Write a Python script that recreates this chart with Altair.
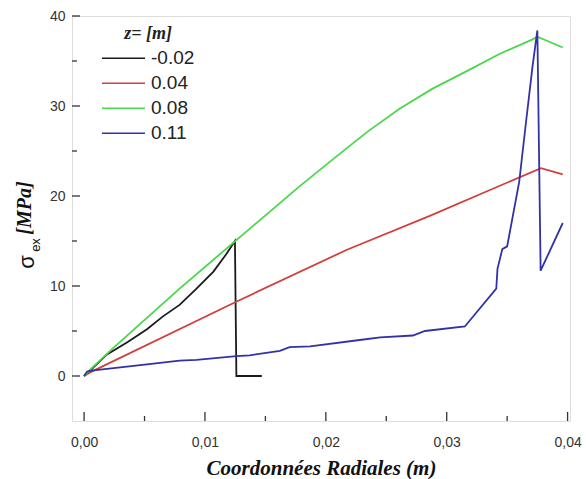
import altair as alt
import pandas as pd

# ---- data ----
z_labels = ["-0.02", "0.04", "0.08", "0.11"]
z_colors = ["#1a1a1a", "#d0403c", "#4cd64c", "#3232a8"]

x_black = [0, 0.0005, 0.0018, 0.00364, 0.0052, 0.0065, 0.0079, 0.0093, 0.0107, 0.0118,
           0.01248, 0.0126, 0.0147]
y_black = [0, 0.6, 2.3, 3.8, 5.2, 6.6, 7.9, 9.7, 11.6, 13.6,
           15.0, 0, 0]

x_red = [0, 0.0005, 0.0125, 0.0217, 0.0286, 0.0378, 0.0396]
y_red = [0, 0.4, 8.2, 14.0, 17.8, 23.1, 22.4]

x_green = [0, 0.0005, 0.0024, 0.0079, 0.01347, 0.01785, 0.0206, 0.0234, 0.0261,
           0.0288, 0.0317, 0.0344, 0.0371, 0.0375, 0.0396]
y_green = [0, 0.7, 3.1, 9.7, 16.1, 21.1, 24.1, 27.1, 29.7,
           31.9, 33.9, 35.8, 37.4, 37.7, 36.5]

x_blue = [0, 0.00025, 0.0006, 0.0052, 0.0079, 0.0093, 0.0126, 0.0137, 0.0162, 0.017,
          0.0187, 0.0228, 0.0245, 0.0272, 0.0282, 0.0315, 0.0341, 0.0342, 0.0346,
          0.035, 0.036, 0.0365, 0.0371, 0.0375, 0.03777, 0.0396]
y_blue = [0, 0.5, 0.6, 1.3, 1.7, 1.8, 2.2, 2.3, 2.8, 3.2,
          3.3, 4.0, 4.3, 4.5, 5.0, 5.5, 9.7, 11.9, 14.1,
          14.4, 21.6, 27.5, 34.4, 38.4, 11.7, 17.0]

x_major = [0, 0.01, 0.02, 0.03, 0.04]
x_minor = [0.005, 0.015, 0.025, 0.035]
y_major = [0, 10, 20, 30, 40]
y_minor = [5, 15, 25, 35]

rows = []
for lab, xs, ys in zip(z_labels, [x_black, x_red, x_green, x_blue],
                       [y_black, y_red, y_green, y_blue]):
    for i, (xv, yv) in enumerate(zip(xs, ys)):
        rows.append({"z": lab, "x": xv, "y": yv, "i": i})
df = pd.DataFrame(rows)

W, H = 498, 405

xscale = alt.Scale(domain=[-0.001, 0.0402], nice=False, zero=False)
yscale = alt.Scale(domain=[-5, 40], nice=False, zero=False)

x_axis = alt.Axis(values=x_major, format=".2f",
                  labelExpr="replace(datum.label, '.', ',')",
                  ticks=False, domain=False, grid=False,
                  labelFont="Liberation Sans", labelFontSize=14, labelColor="#333",
                  labelPadding=14,
                  title="Coordonnées Radiales (m)", titleFont="Liberation Serif",
                  titleFontSize=21, titleFontStyle="italic", titleFontWeight="bold",
                  titleColor="#111", titlePadding=8)
y_axis = alt.Axis(values=y_major, ticks=False, domain=False, grid=False,
                  labelFont="Liberation Sans", labelFontSize=14, labelColor="#333",
                  labelPadding=7, title=None)

lines = alt.Chart(df).mark_line(strokeWidth=1.8, clip=True).encode(
    x=alt.X("x:Q", scale=xscale, axis=x_axis),
    y=alt.Y("y:Q", scale=yscale, axis=y_axis),
    color=alt.Color("z:N", sort=z_labels,
                    scale=alt.Scale(domain=z_labels, range=z_colors),
                    legend=alt.Legend(
                        orient="none", legendX=29, legendY=9, padding=0,
                        title="z= [m]", titleFont="Liberation Serif",
                        titleFontSize=18, titleFontStyle="italic",
                        titleFontWeight="bold", titleColor="#222",
                        titleAnchor="middle", titlePadding=3,
                        symbolType="stroke", symbolSize=1850,
                        symbolStrokeWidth=1.6, clipHeight=24.5, rowPadding=0,
                        labelFont="Liberation Sans", labelFontSize=19,
                        labelColor="#222", labelOffset=5)),
    order="i:Q",
)

xmaj = alt.Chart(pd.DataFrame({"v": x_major})).mark_rule(color="#333", strokeWidth=1.3).encode(
    x=alt.X("v:Q", scale=xscale), y=alt.value(H), y2=alt.value(H - 9))
xmin = alt.Chart(pd.DataFrame({"v": x_minor})).mark_rule(color="#333", strokeWidth=1.3).encode(
    x=alt.X("v:Q", scale=xscale), y=alt.value(H), y2=alt.value(H - 5))
ymaj = alt.Chart(pd.DataFrame({"v": y_major})).mark_rule(color="#333", strokeWidth=1.3).encode(
    y=alt.Y("v:Q", scale=yscale), x=alt.value(0), x2=alt.value(8))
ymin = alt.Chart(pd.DataFrame({"v": y_minor})).mark_rule(color="#333", strokeWidth=1.3).encode(
    y=alt.Y("v:Q", scale=yscale), x=alt.value(0), x2=alt.value(5))

one = pd.DataFrame({"t": [""]})
t_sigma = alt.Chart(one).mark_text(text="σ", angle=270, font="Liberation Sans",
                                   fontSize=22, color="#111", align="center",
                                   baseline="middle").encode(
    x=alt.value(-45), y=alt.value(246))
t_ex = alt.Chart(one).mark_text(text="ex", angle=270, font="Liberation Sans",
                                fontSize=13, color="#111", align="center",
                                baseline="middle").encode(
    x=alt.value(-36), y=alt.value(229))
t_mpa = alt.Chart(one).mark_text(text="[MPa]", angle=270, font="Liberation Serif",
                                 fontSize=20, fontStyle="italic", fontWeight="bold",
                                 color="#111", align="center",
                                 baseline="middle").encode(
    x=alt.value(-47), y=alt.value(192))

chart = alt.layer(lines, xmaj, xmin, ymaj, ymin, t_sigma, t_ex, t_mpa).properties(
    width=W, height=H,
    autosize=alt.AutoSizeParams(type="none"),
    padding={"left": 72, "top": 16, "right": 16, "bottom": 58},
).configure_view(stroke="#333", strokeWidth=1.5).configure(background="white")

chart.save("out.html", embed_options={"renderer": "svg", "actions": False})
